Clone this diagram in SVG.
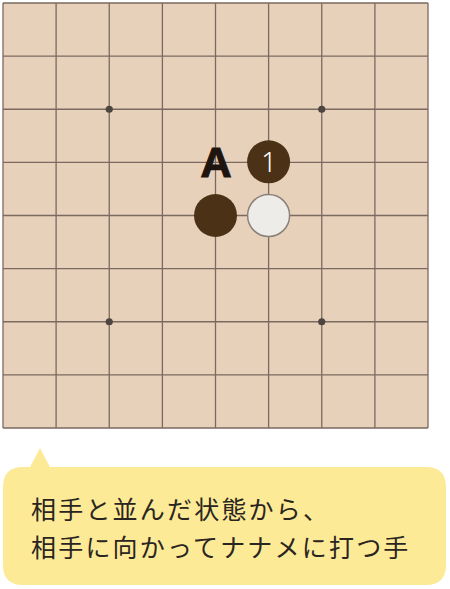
<svg xmlns="http://www.w3.org/2000/svg" width="450" height="589" viewBox="0 0 450 589">
<style>
.grid line{stroke:#7a6a5f;stroke-width:1.3}
.star{fill:#4d4540}
.bstone{fill:#4b3217}
.wstone{fill:#eeece8;stroke:#8a817a;stroke-width:1.5}
.cjk{font-family:"Noto Sans CJK JP","Noto Sans CJK SC",sans-serif;font-size:25px;fill:#2a2520;letter-spacing:2.2px}
</style>
<rect width="450" height="589" fill="#ffffff"/>
<g id="board">
<rect x="3" y="3" width="425" height="425" fill="#e8d1ba"/>
<g class="grid">
<line x1="3" y1="3" x2="428" y2="3"/>
<line x1="3" y1="56.1" x2="428" y2="56.1"/>
<line x1="3" y1="109.25" x2="428" y2="109.25"/>
<line x1="3" y1="162.4" x2="428" y2="162.4"/>
<line x1="3" y1="215.5" x2="428" y2="215.5"/>
<line x1="3" y1="268.6" x2="428" y2="268.6"/>
<line x1="3" y1="321.75" x2="428" y2="321.75"/>
<line x1="3" y1="374.9" x2="428" y2="374.9"/>
<line x1="3" y1="428" x2="428" y2="428"/>
<line x1="3" y1="3" x2="3" y2="428"/>
<line x1="56.1" y1="3" x2="56.1" y2="428"/>
<line x1="109.25" y1="3" x2="109.25" y2="428"/>
<line x1="162.4" y1="3" x2="162.4" y2="428"/>
<line x1="215.5" y1="3" x2="215.5" y2="428"/>
<line x1="268.6" y1="3" x2="268.6" y2="428"/>
<line x1="321.75" y1="3" x2="321.75" y2="428"/>
<line x1="374.9" y1="3" x2="374.9" y2="428"/>
<line x1="428" y1="3" x2="428" y2="428"/>
</g>
<circle class="star" cx="109.25" cy="109.25" r="3.6"/>
<circle class="star" cx="321.75" cy="109.25" r="3.6"/>
<circle class="star" cx="109.25" cy="321.75" r="3.6"/>
<circle class="star" cx="321.75" cy="321.75" r="3.6"/>
</g>
<g id="stone-1">
<circle class="bstone" cx="268.6" cy="161.8" r="21.5"/>
<text x="269" y="172" text-anchor="middle" font-family="'Noto Sans',sans-serif" font-weight="300" font-size="27" fill="#ffffff">1</text>
</g>
<g id="label-A">
<text x="216" y="177" text-anchor="middle" font-family="'Liberation Sans',Arial,sans-serif" font-weight="bold" font-size="43" fill="#1e1410" stroke="#1e1410" stroke-width="1.2">A</text>
</g>
<g id="stone-black">
<circle class="bstone" cx="215.5" cy="215.5" r="21.5"/>
</g>
<g id="stone-white">
<circle class="wstone" cx="268.6" cy="215.5" r="21"/>
</g>
<g id="callout">
<path d="M23 467 L30 467 L40 448 L50 467 L426 467 Q446 467 446 487 L446 565 Q446 585 426 585 L23 585 Q3 585 3 565 L3 487 Q3 467 23 467 Z" fill="#fdea97"/>
<text class="cjk" x="31" y="519">相手と並んだ状態から、</text>
<text class="cjk" x="31" y="557">相手に向かってナナメに打つ手</text>
</g>
</svg>
